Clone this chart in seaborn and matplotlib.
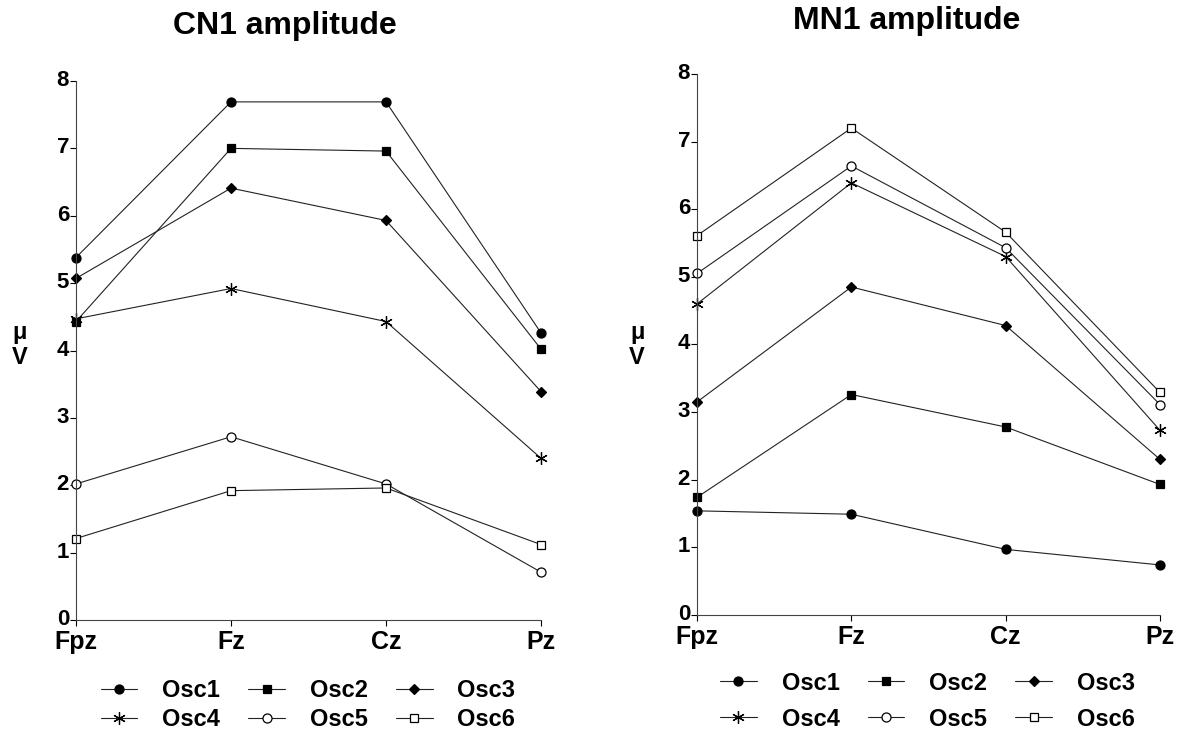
import pandas as pd
import matplotlib
matplotlib.use('Agg')
import matplotlib.pyplot as plt
import matplotlib.transforms as mtransforms
import seaborn as sns

# electrode sites along the x axis
sites = ['Fpz', 'Fz', 'Cz', 'Pz']
series = ['Osc1', 'Osc2', 'Osc3', 'Osc4', 'Osc5', 'Osc6']

# CN1 amplitude (uV), one list per oscillator
cn1_osc1 = [5.38, 7.69, 7.69, 4.26]
cn1_osc2 = [4.43, 7.00, 6.96, 4.02]
cn1_osc3 = [5.07, 6.41, 5.93, 3.39]
cn1_osc4 = [4.47, 4.92, 4.43, 2.40]
cn1_osc5 = [2.02, 2.72, 2.02, 0.71]
cn1_osc6 = [1.21, 1.92, 1.96, 1.12]

# MN1 amplitude (uV)
mn1_osc1 = [1.54, 1.49, 0.97, 0.74]
mn1_osc2 = [1.74, 3.26, 2.78, 1.93]
mn1_osc3 = [3.15, 4.85, 4.28, 2.30]
mn1_osc4 = [4.60, 6.39, 5.30, 2.73]
mn1_osc5 = [5.05, 6.64, 5.43, 3.11]
mn1_osc6 = [5.61, 7.20, 5.66, 3.29]

cn1 = [cn1_osc1, cn1_osc2, cn1_osc3, cn1_osc4, cn1_osc5, cn1_osc6]
mn1 = [mn1_osc1, mn1_osc2, mn1_osc3, mn1_osc4, mn1_osc5, mn1_osc6]

# marker, face colour, size
styles = {
    'Osc1': ('o', 'black', 6.5),
    'Osc2': ('s', 'black', 5.5),
    'Osc3': ('D', 'black', 5.5),
    'Osc4': ((6, 2, 0), 'black', 9),
    'Osc5': ('o', 'white', 6.5),
    'Osc6': ('s', 'white', 5.5),
}

sns.set_style('ticks')
plt.rcParams['font.family'] = ['Liberation Sans', 'DejaVu Sans']
plt.rcParams['font.weight'] = 'bold'
for key in ['text.color', 'axes.labelcolor', 'xtick.color', 'ytick.color']:
    plt.rcParams[key] = 'black'


def to_long(values):
    rows = []
    for name, vals in zip(series, values):
        for s, v in zip(sites, vals):
            rows.append({'site': s, 'amp': v, 'osc': name})
    return pd.DataFrame(rows)


def draw_panel(ax, df):
    for name in series:
        sub = df[df['osc'] == name]
        mk, fc, ms = styles[name]
        sns.lineplot(data=sub, x='site', y='amp', ax=ax, sort=False,
                     color='#222222', linewidth=0.8, marker=mk, markersize=ms,
                     markerfacecolor=fc, markeredgecolor='black',
                     markeredgewidth=0.9, clip_on=False, label=name, legend=False)
    ax.set_xlim(0, 3)
    ax.set_ylim(0, 8)
    ax.set_yticks(range(0, 9))
    ax.set_xlabel('')
    ax.set_ylabel('')
    ax.tick_params(axis='y', labelsize=16, length=4, width=0.8, pad=1)
    ax.tick_params(axis='x', labelsize=18, length=4, width=0.8, pad=3)
    # y tick labels sit a little above their ticks in the original
    shift = mtransforms.ScaledTranslation(0, 3 / 100, ax.figure.dpi_scale_trans)
    for lab in ax.get_yticklabels():
        lab.set_fontweight('bold')
        lab.set_transform(lab.get_transform() + shift)
    for lab in ax.get_xticklabels():
        lab.set_fontweight('bold')
    sns.despine(ax=ax)
    for sp in ['left', 'bottom']:
        ax.spines[sp].set_linewidth(0.8)
        ax.spines[sp].set_color('#444444')


fig = plt.figure(figsize=(11.8, 7.31), dpi=100)
ax1 = fig.add_axes([0.0644, 0.1518, 0.3941, 0.7374])
ax2 = fig.add_axes([0.5907, 0.1587, 0.3924, 0.7401])

draw_panel(ax1, to_long(cn1))
draw_panel(ax2, to_long(mn1))

fig.text(0.2415, 0.964, 'CN1 amplitude', ha='center', va='center', fontsize=23, fontweight='bold')
fig.text(0.768, 0.971, 'MN1 amplitude', ha='center', va='center', fontsize=23, fontweight='bold')
fig.text(0.017, 0.528, 'μ\nV', ha='center', va='center', fontsize=17, fontweight='bold', linespacing=1.1)
fig.text(0.540, 0.528, 'μ\nV', ha='center', va='center', fontsize=17, fontweight='bold', linespacing=1.1)

order = [0, 3, 1, 4, 2, 5]
for ax, anchor, lsp in [(ax1, (0.261, 0.0356), 0.25), (ax2, (0.786, 0.041), 0.55)]:
    h, l = ax.get_legend_handles_labels()
    leg = ax.legend([h[i] for i in order], [l[i] for i in order], ncol=3,
                    loc='center', bbox_to_anchor=anchor, bbox_transform=fig.transFigure,
                    frameon=False, fontsize=17, handlelength=1.55, handletextpad=1.05,
                    columnspacing=1.2, labelspacing=lsp, numpoints=1, borderpad=0)
    for t in leg.get_texts():
        t.set_fontweight('bold')

fig.savefig('out.png', dpi=100)
